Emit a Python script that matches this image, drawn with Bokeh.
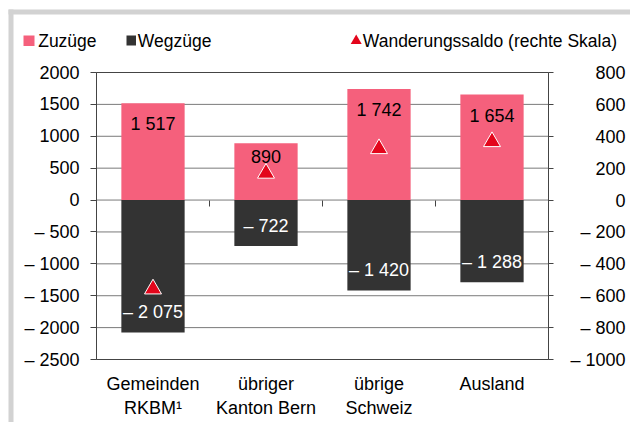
from bokeh.plotting import figure
from bokeh.models import (Range1d, LinearAxis, FixedTicker, ColumnDataSource, LabelSet)
from bokeh.core.properties import value
from bokeh.embed import file_html
from bokeh.resources import INLINE

# ---------------- data ----------------
categories = ["Gemeinden\nRKBM¹", "übriger\nKanton Bern", "übrige\nSchweiz", "Ausland"]
zuzuege = [1517, 890, 1742, 1654]
wegzuege = [-2075, -722, -1420, -1288]
saldo = [-558, 168, 322, 366]
left_ticks = [2000, 1500, 1000, 500, 0, -500, -1000, -1500, -2000, -2500]
right_ticks = [800, 600, 400, 200, 0, -200, -400, -600, -800, -1000]
legend_labels = ["Zuzüge", "Wegzüge", "Wanderungssaldo (rechte Skala)"]

# ---------------- style / layout (page pixels) ----------------
FONT = "Liberation Sans"
FS = "18px"
LFS = "17.5px"
PINK = "#f5607c"
DARK = "#333333"
RED = "#e3051b"
AXIS = "#444444"
GRID = "#7a7a7a"
FRAME = "#d2d2d2"
pos_label_offsets = [-21, -13, -21, -21]
neg_label_offsets = [20, 20, 21, 20]

W, H = 630, 422          # canvas size
OX, OY = 0, 1            # canvas origin on the page
PL, PR, PT, PB = 96, 548, 73, 360   # plot area on the page

n = len(categories)
L_MIN, L_MAX = min(left_ticks), max(left_ticks)
R_MIN, R_MAX = min(right_ticks), max(right_ticks)

kx = n / (PR - PL)
ky = (L_MAX - L_MIN) / (PB - PT)
kr = (R_MAX - R_MIN) / (PB - PT)


def X(px):
    return (px - PL) * kx


def Y(py):
    return L_MAX - (py - PT) * ky


x_range = Range1d(X(OX), X(OX + W))
y_range = Range1d(Y(OY + H), Y(OY))
r_range = Range1d(R_MAX - (OY + H - PT) * kr, R_MAX - (OY - PT) * kr)


def tick_fmt(v):
    return ("– " + str(abs(v))) if v < 0 else str(v)


def num_fmt(v):
    s = f"{abs(v):,}".replace(",", " ")
    return ("– " + s) if v < 0 else s


p = figure(width=W, height=H, x_range=x_range, y_range=y_range,
           x_axis_type=None, y_axis_type=None, output_backend="svg", toolbar_location=None,
           min_border=0, min_border_left=0, min_border_right=0, min_border_top=0,
           min_border_bottom=0)
p.extra_y_ranges = {"saldo": r_range}
p.outline_line_color = None
p.background_fill_color = "white"
p.border_fill_color = "white"
p.grid.visible = False

# gray frame
p.quad(left=[X(8), X(8)], right=[X(13), X(OX + W)], top=[Y(10), Y(10)],
       bottom=[Y(OY + H), Y(15)], fill_color=FRAME, line_color=None)

# grid lines
p.segment(x0=0, x1=n, y0=left_ticks, y1=left_ticks, line_color=GRID, line_width=1)

# bars
xpos = [i + 0.5 for i in range(n)]
src = ColumnDataSource(dict(x=xpos, zu=zuzuege, weg=wegzuege, saldo=saldo,
                            zu_t=[num_fmt(v) for v in zuzuege],
                            weg_t=[num_fmt(v) for v in wegzuege],
                            zoff=pos_label_offsets, woff=neg_label_offsets))
p.vbar(x="x", top="zu", bottom=0, width=0.56, source=src, fill_color=PINK, line_color=None)
p.vbar(x="x", top=0, bottom="weg", width=0.56, source=src, fill_color=DARK, line_color=None)
p.scatter(x="x", y="saldo", source=src, marker="triangle", size=17, fill_color=RED,
          line_color="white", line_width=1, y_range_name="saldo")

p.add_layout(LabelSet(x="x", y="zu", text="zu_t", y_offset="zoff", source=src,
                      text_align="center", text_baseline="middle", text_font=value(FONT),
                      text_font_size=value(FS), text_color="black"))
p.add_layout(LabelSet(x="x", y="weg", text="weg_t", y_offset="woff", source=src,
                      text_align="center", text_baseline="middle", text_font=value(FONT),
                      text_font_size=value(FS), text_color="white"))

# left axis
la = LinearAxis(fixed_location=0, bounds=(L_MIN, L_MAX), ticker=FixedTicker(ticks=left_ticks),
                major_label_overrides={t: tick_fmt(t) for t in left_ticks},
                major_tick_out=6, major_tick_in=0, minor_tick_line_color=None,
                axis_line_color=AXIS, major_tick_line_color=AXIS, major_label_standoff=11,
                major_label_text_font=FONT, major_label_text_font_size=FS,
                major_label_text_color="black")
p.add_layout(la, "left")

# right axis (ticks only; labels right-aligned as text)
ra = LinearAxis(y_range_name="saldo", fixed_location=n, bounds=(R_MIN, R_MAX),
                ticker=FixedTicker(ticks=right_ticks),
                major_label_overrides={t: "" for t in right_ticks},
                major_tick_out=5, major_tick_in=0, minor_tick_line_color=None,
                axis_line_color=AXIS, major_tick_line_color=AXIS)
p.add_layout(ra, "right")
p.text(x=X(625), y=right_ticks, text=[tick_fmt(t) for t in right_ticks],
       y_range_name="saldo", text_align="right", text_baseline="middle",
       text_font=value(FONT), text_font_size=value(FS), text_color="black")

# bottom category axis
ba = LinearAxis(fixed_location=L_MIN, bounds=(0, n), ticker=FixedTicker(ticks=xpos),
                major_label_overrides={x: c for x, c in zip(xpos, categories)},
                major_tick_line_color=None, minor_tick_line_color=None,
                axis_line_color=AXIS, major_label_standoff=8,
                major_label_text_font=FONT, major_label_text_font_size=FS,
                major_label_text_color="black")
p.add_layout(ba, "below")

# category boundary ticks on the zero line
bounds_ticks = list(range(1, n))
zt = LinearAxis(fixed_location=0, bounds=(0, n), ticker=FixedTicker(ticks=bounds_ticks),
                axis_line_color=None, major_tick_out=6, major_tick_in=0,
                major_tick_line_color=AXIS, minor_tick_line_color=None,
                major_label_overrides={t: "" for t in bounds_ticks})
p.add_layout(zt, "below")

# top border line
ta = LinearAxis(fixed_location=L_MAX, bounds=(0, n), ticker=FixedTicker(ticks=[]),
                axis_line_color=AXIS, major_tick_line_color=None, minor_tick_line_color=None)
p.add_layout(ta, "above")

# legend
p.quad(left=[X(23), X(126)], right=[X(34), X(135.5)], top=[Y(36), Y(36)],
       bottom=[Y(46.5), Y(46)], fill_color=[PINK, DARK], line_color=None)
p.scatter(x=[X(355.7)], y=[Y(41.4)], marker="triangle", size=11, fill_color=RED,
          line_color=None)
p.text(x=[X(37.7), X(137.3), X(362.3)], y=[Y(41.5)] * 3, text=legend_labels,
       text_align="left", text_baseline="middle", text_font=value(FONT),
       text_font_size=value(LFS), text_color="black")

open("out.html", "w").write(file_html(p, INLINE))
